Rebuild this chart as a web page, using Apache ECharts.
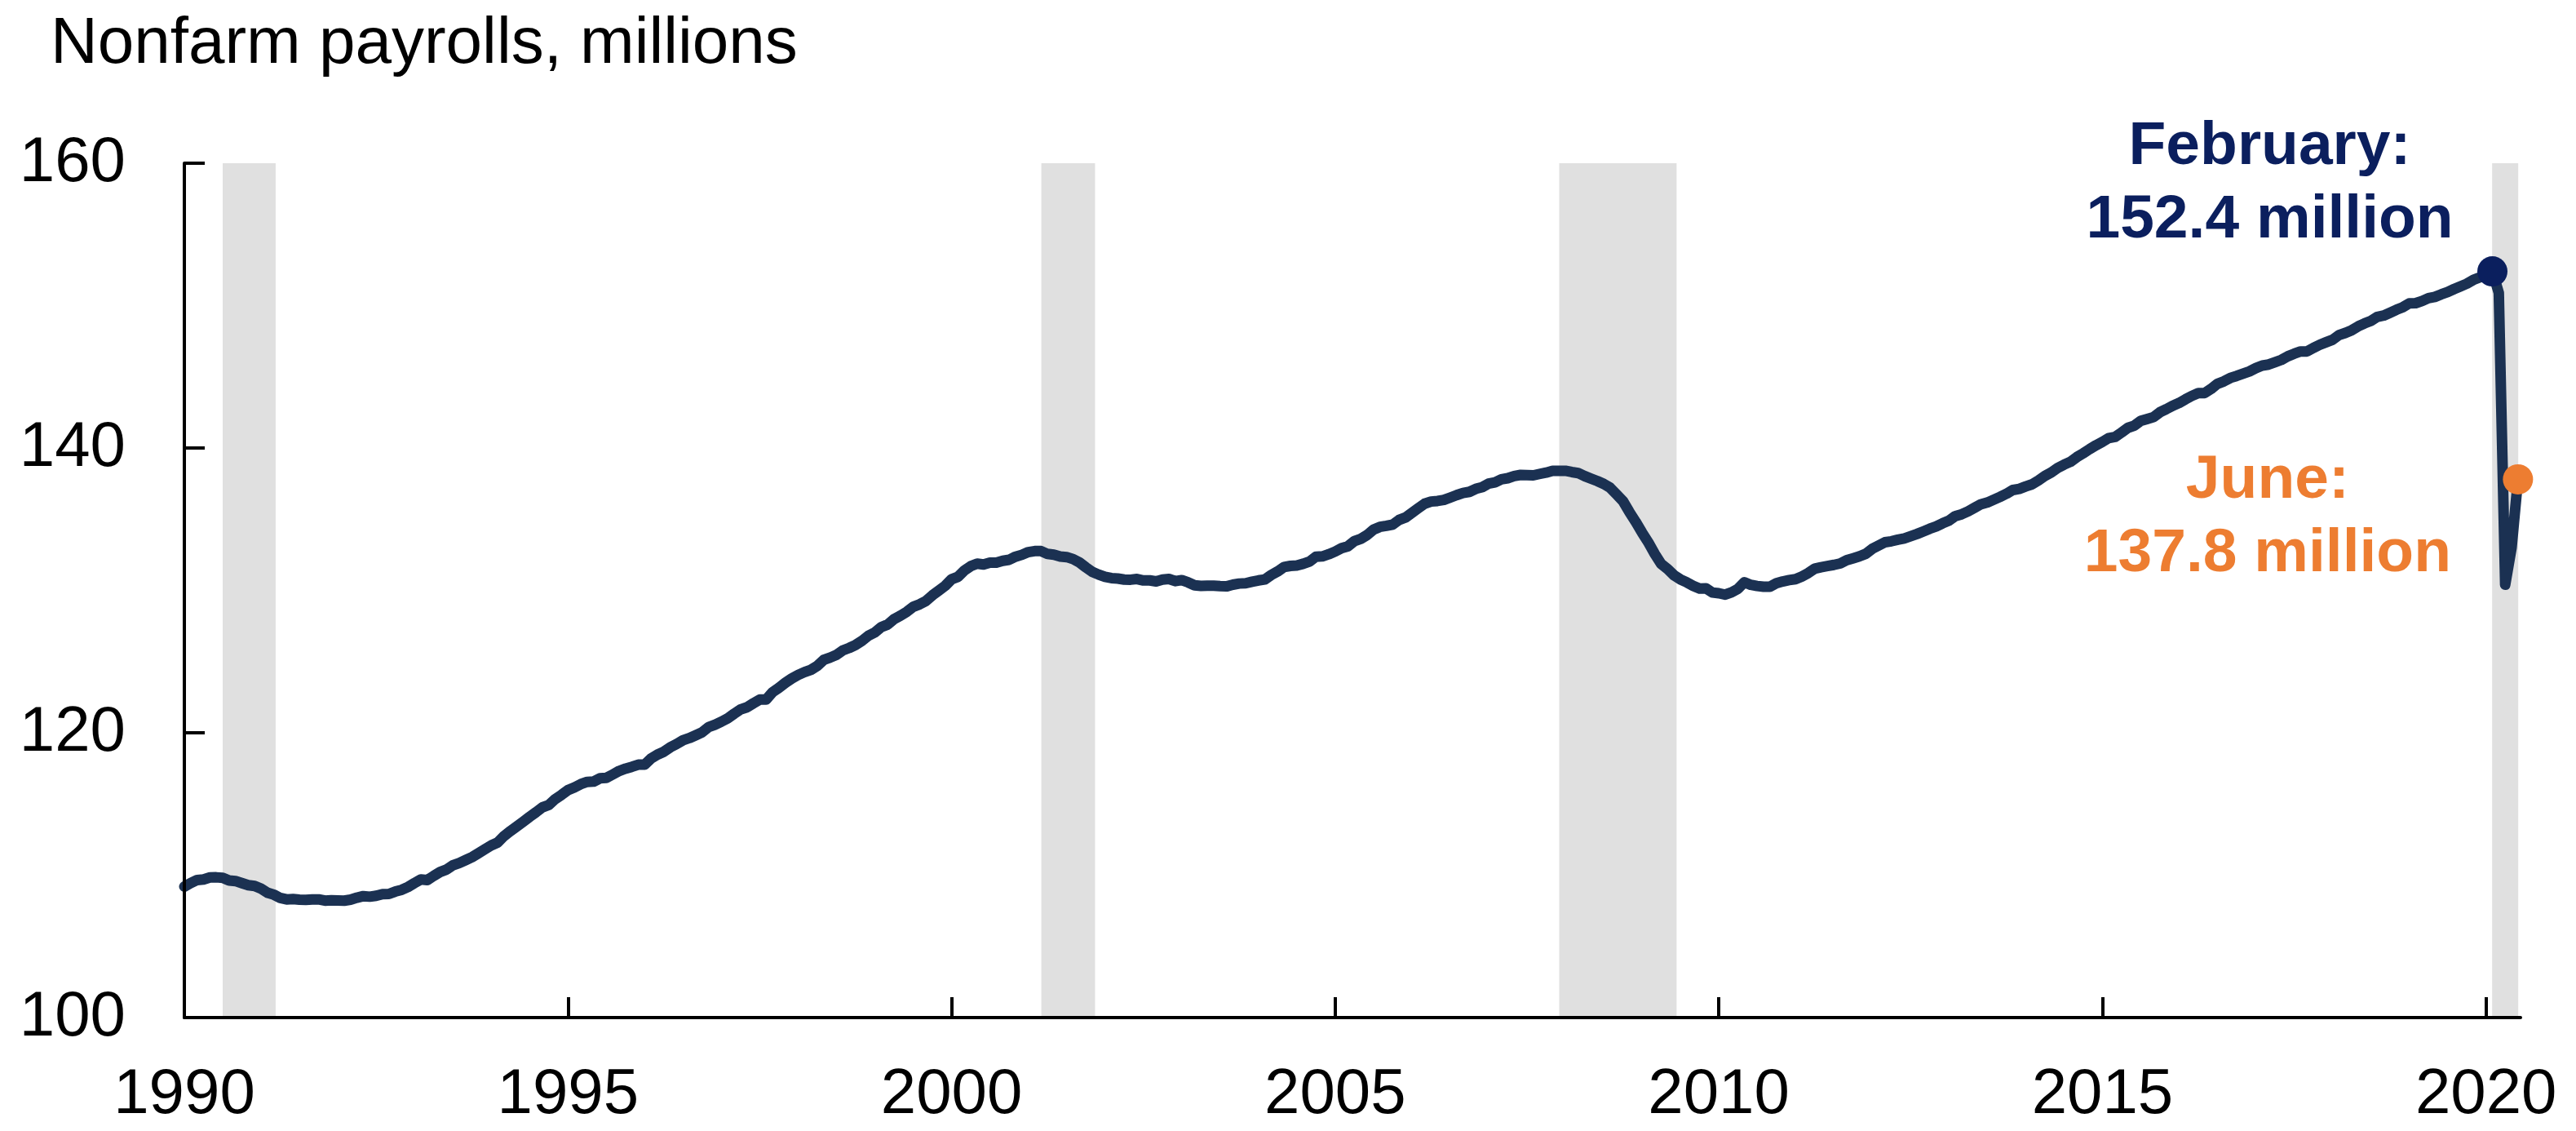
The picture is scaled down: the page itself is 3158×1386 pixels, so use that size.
<!DOCTYPE html>
<html>
<head>
<meta charset="utf-8">
<script src="https://cdn.jsdelivr.net/npm/echarts@6/dist/echarts.min.js"></script>
<style>html,body{margin:0;padding:0;background:#fff}#c{width:3158px;height:1386px}</style>
</head>
<body>
<div id="c"></div>
<script>
// ---- DATA ----
const title = 'Nonfarm payrolls, millions';
const startYear = 1990;
// Monthly nonfarm payrolls (millions), Jan 1990 .. Jun 2020, one row per year
const p1990 = [109.20,109.45,109.66,109.70,109.84,109.85,109.82,109.63,109.59,109.44,109.30,109.24];
const p1991 = [109.05,108.77,108.63,108.40,108.30,108.32,108.28,108.27,108.29,108.30,108.21,108.24];
const p1992 = [108.23,108.21,108.28,108.42,108.53,108.49,108.55,108.67,108.68,108.85,108.97,109.18];
const p1993 = [109.45,109.70,109.66,109.95,110.22,110.39,110.69,110.85,111.06,111.27,111.54,111.82];
const p1994 = [112.09,112.29,112.75,113.10,113.43,113.76,114.10,114.42,114.76,114.93,115.34,115.64];
const p1995 = [115.97,116.16,116.39,116.55,116.57,116.80,116.83,117.07,117.32,117.48,117.61,117.76];
const p1996 = [117.77,118.19,118.47,118.67,118.98,119.21,119.48,119.63,119.83,120.04,120.40,120.57];
const p1997 = [120.78,121.02,121.34,121.64,121.79,122.07,122.33,122.33,122.85,123.16,123.51,123.81];
const p1998 = [124.06,124.26,124.42,124.70,125.12,125.28,125.47,125.79,125.96,126.17,126.46,126.82];
const p1999 = [127.05,127.42,127.60,127.98,128.22,128.50,128.85,129.02,129.26,129.65,129.98,130.32];
const p2000 = [130.78,130.95,131.40,131.70,131.88,131.82,131.95,131.95,132.08,132.15,132.37,132.50];
const p2001 = [132.69,132.76,132.76,132.56,132.51,132.38,132.34,132.20,131.96,131.62,131.30,131.11];
const p2002 = [130.95,130.86,130.83,130.76,130.75,130.80,130.70,130.70,130.63,130.76,130.80,130.65];
const p2003 = [130.72,130.56,130.36,130.32,130.33,130.33,130.30,130.28,130.40,130.48,130.50,130.61];
const p2004 = [130.70,130.77,131.08,131.33,131.64,131.72,131.75,131.87,132.03,132.37,132.39,132.54];
const p2005 = [132.73,132.97,133.10,133.46,133.62,133.89,134.27,134.46,134.53,134.62,134.95,135.12];
const p2006 = [135.45,135.77,136.09,136.24,136.28,136.35,136.52,136.69,136.84,136.92,137.13,137.25];
const p2007 = [137.50,137.59,137.80,137.88,138.03,138.11,138.10,138.08,138.18,138.27,138.39,138.39];
const p2008 = [138.40,138.31,138.24,138.03,137.85,137.68,137.48,137.21,136.75,136.28,135.52,134.82];
const p2009 = [134.06,133.35,132.55,131.85,131.50,131.06,130.77,130.56,130.32,130.13,130.14,129.85];
const p2010 = [129.80,129.70,129.86,130.11,130.57,130.39,130.31,130.26,130.26,130.50,130.63,130.72];
const p2011 = [130.79,130.98,131.22,131.53,131.63,131.71,131.79,131.89,132.12,132.25,132.39,132.57];
const p2012 = [132.92,133.15,133.38,133.45,133.56,133.65,133.80,133.96,134.14,134.33,134.49,134.71];
const p2013 = [134.90,135.22,135.35,135.55,135.80,136.05,136.17,136.37,136.57,136.79,137.05,137.13];
const p2014 = [137.30,137.45,137.72,138.04,138.28,138.60,138.83,139.03,139.36,139.63,139.92,140.19];
const p2015 = [140.43,140.70,140.78,141.09,141.42,141.57,141.90,142.03,142.17,142.51,142.73,142.97];
const p2016 = [143.16,143.42,143.66,143.85,143.86,144.15,144.51,144.68,144.92,145.06,145.22,145.38];
const p2017 = [145.61,145.79,145.86,146.02,146.19,146.44,146.62,146.78,146.78,147.03,147.25,147.43];
const p2018 = [147.60,147.93,148.08,148.27,148.54,148.75,148.93,149.21,149.30,149.50,149.71,149.89];
const p2019 = [150.16,150.17,150.32,150.52,150.61,150.79,150.95,151.16,151.35,151.54,151.80,151.98];
const p2020 = [152.21,152.40,150.90,130.40,133.00,137.80];

// Recessions (decimal years)
const recessionStarts = [1990.50, 2001.17, 2007.92, 2020.08];
const recessionEnds   = [1991.19, 2001.87, 2009.45, 2020.42];

// Highlighted points: [decimal year, value] and their texts
const febPoint = [2020 + 1/12, 152.4];
const febText = 'February:\n152.4 million';
const junePoint = [2020 + 5/12, 137.8];
const juneText = 'June:\n137.8 million';

// Tick labels
const xTickLabels = [1990, 1995, 2000, 2005, 2010, 2015, 2020];
const yTickLabels = [100, 120, 140, 160];

// ---- BUILD ----
const yearsRows = [p1990,p1991,p1992,p1993,p1994,p1995,p1996,p1997,p1998,p1999,p2000,p2001,p2002,p2003,p2004,p2005,p2006,p2007,p2008,p2009,p2010,p2011,p2012,p2013,p2014,p2015,p2016,p2017,p2018,p2019,p2020];
const lineData = [];
yearsRows.forEach((row, i) => row.forEach((v, m) => lineData.push([startYear + i + m / 12, v])));

const FONT = "'Liberation Sans', Arial, Helvetica, sans-serif";
const navyLine = '#1b3152';
const navyText = '#0b1f5e';
const orange = '#ed7d31';

const labelBase = {show: true, position: 'inside', fontFamily: FONT, fontSize: 75, fontWeight: 'bold',
                   lineHeight: 90, align: 'center', verticalAlign: 'middle', opacity: 1};

const chart = echarts.init(document.getElementById('c'), null, {renderer: 'canvas'});
chart.setOption({
  animation: false,
  backgroundColor: '#fff',
  title: {
    text: title, left: 62, top: 15, padding: 0,
    textStyle: {fontFamily: FONT, fontSize: 80, fontWeight: 'normal', color: '#000'}
  },
  grid: {left: 226, right: 68, top: 200, bottom: 139, containLabel: false},
  xAxis: {
    type: 'value', min: 1990, max: 2020.45, interval: 5, z: 10,
    splitLine: {show: false},
    axisLine: {show: true, lineStyle: {color: '#000', width: 4}},
    axisTick: {show: true, inside: true, length: 25, lineStyle: {color: '#000', width: 4},
               customValues: xTickLabels.slice(1)},
    axisLabel: {customValues: xTickLabels, margin: 56, fontFamily: FONT, fontSize: 78, color: '#000',
                formatter: v => String(Math.round(v))}
  },
  yAxis: {
    type: 'value', min: 100, max: 160, interval: 20, z: 10,
    splitLine: {show: false},
    axisLine: {show: true, lineStyle: {color: '#000', width: 4}},
    axisTick: {show: true, inside: true, length: 25, lineStyle: {color: '#000', width: 4},
               customValues: yTickLabels.slice(1)},
    axisLabel: {customValues: yTickLabels, margin: 72, fontFamily: FONT, fontSize: 78, color: '#000'}
  },
  series: [
    {
      type: 'line', name: 'recessions', data: [], silent: true,
      markArea: {
        silent: true,
        itemStyle: {color: '#e0e0e0', opacity: 1},
        data: recessionStarts.map((s, i) => [{xAxis: s}, {xAxis: recessionEnds[i]}])
      }
    },
    {
      type: 'line', name: 'payrolls', data: lineData, showSymbol: false, symbol: 'none',
      lineStyle: {color: navyLine, width: 13, cap: 'round', join: 'round', opacity: 1}, z: 3
    },
    {
      type: 'scatter', z: 5, symbolSize: 37,
      itemStyle: {opacity: 1},
      data: [{value: febPoint, itemStyle: {color: navyText, opacity: 1},
              label: Object.assign({}, labelBase, {formatter: febText, offset: [-273, -107], color: navyText})},
             {value: junePoint, itemStyle: {color: orange, opacity: 1},
              label: Object.assign({}, labelBase, {formatter: juneText, offset: [-307, 47], color: orange})}]
    }
  ]
});
</script>
</body>
</html>
